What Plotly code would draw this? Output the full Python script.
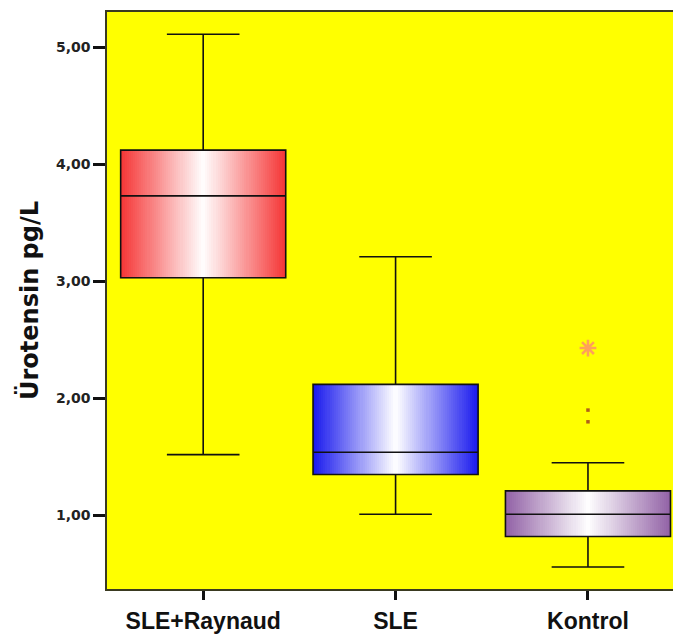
import numpy as np
import plotly.graph_objects as go

# Group labels and five-number summaries (pg/L)
groups = ["SLE+Raynaud", "SLE", "Kontrol"]
lower_whisker = [1.52, 1.01, 0.56]
q1 = [3.03, 1.35, 0.82]
median = [3.73, 1.54, 1.01]
q3 = [4.12, 2.12, 1.21]
upper_whisker = [5.11, 3.21, 1.45]

# Kontrol outliers: extreme (asterisk) and mild (dots)
extreme_values = [2.43]
mild_values = [1.90, 1.80]

box_colors = ["#f53535", "#1818ee", "#9262a6"]

y_ticks = [1, 2, 3, 4, 5]
y_tick_labels = ["1,00", "2,00", "3,00", "4,00", "5,00"]

positions = list(range(len(groups)))
box_width = 0.858
n_cells = 80

fig = go.Figure()

# Horizontal colour-to-white-to-colour gradient inside each box
for pos, lo, hi, col in zip(positions, q1, q3, box_colors):
    edges = np.linspace(pos - box_width / 2, pos + box_width / 2, n_cells + 1)
    centres = (edges[:-1] + edges[1:]) / 2
    shade = 1 - np.abs((centres - pos) / (box_width / 2))
    fig.add_trace(go.Heatmap(
        x=edges, y=[lo, hi], z=[shade],
        zmin=0, zmax=1,
        colorscale=[[0, col], [1, "#ffffff"]],
        showscale=False, hoverinfo="skip",
    ))

# Box outlines, medians and whiskers
fig.add_trace(go.Box(
    x=positions,
    q1=q1, median=median, q3=q3,
    lowerfence=lower_whisker, upperfence=upper_whisker,
    width=box_width, whiskerwidth=0.44,
    fillcolor="rgba(0,0,0,0)",
    line=dict(color="#111111", width=1.6),
    boxpoints=False, hoverinfo="skip", showlegend=False,
))

fig.add_trace(go.Scatter(
    x=[2] * len(extreme_values), y=extreme_values, mode="markers",
    marker=dict(symbol="asterisk-open", size=14,
                line=dict(color="#e81000", width=2.6)),
    showlegend=False, hoverinfo="skip",
))
fig.add_trace(go.Scatter(
    x=[2] * len(mild_values), y=mild_values, mode="markers",
    marker=dict(symbol="square", size=3.5, color="#b0601a"),
    showlegend=False, hoverinfo="skip",
))

fig.update_layout(
    width=673, height=637,
    margin=dict(l=107, r=0, t=12, b=48),
    paper_bgcolor="#ffffff",
    plot_bgcolor="#ffff00",
    boxmode="overlay",
    showlegend=False,
    xaxis=dict(
        range=[-0.5, 2.442],
        tickmode="array", tickvals=positions, ticktext=groups,
        ticks="outside", ticklen=9, tickwidth=3, tickcolor="#111111",
        tickfont=dict(family="Liberation Sans", size=23, color="#111111",
                      weight="bold"),
        ticklabelstandoff=2,
        showline=True, mirror=True, linecolor="#3a3a20", linewidth=1.5,
        showgrid=False, zeroline=False,
    ),
    yaxis=dict(
        range=[0.372, 5.30],
        tickmode="array", tickvals=y_ticks, ticktext=y_tick_labels,
        ticks="outside", ticklen=12, tickwidth=3, tickcolor="#111111",
        tickfont=dict(family="DejaVu Sans", size=14, color="#222222",
                      weight="bold"),
        title=dict(text="Ürotensin pg/L", standoff=11,
                   font=dict(family="DejaVu Sans", size=24, color="#111111",
                             weight="bold")),
        showline=True, linecolor="#3a3a20", linewidth=1.5,
        showgrid=False, zeroline=False,
    ),
)

fig.write_html("out.html")
